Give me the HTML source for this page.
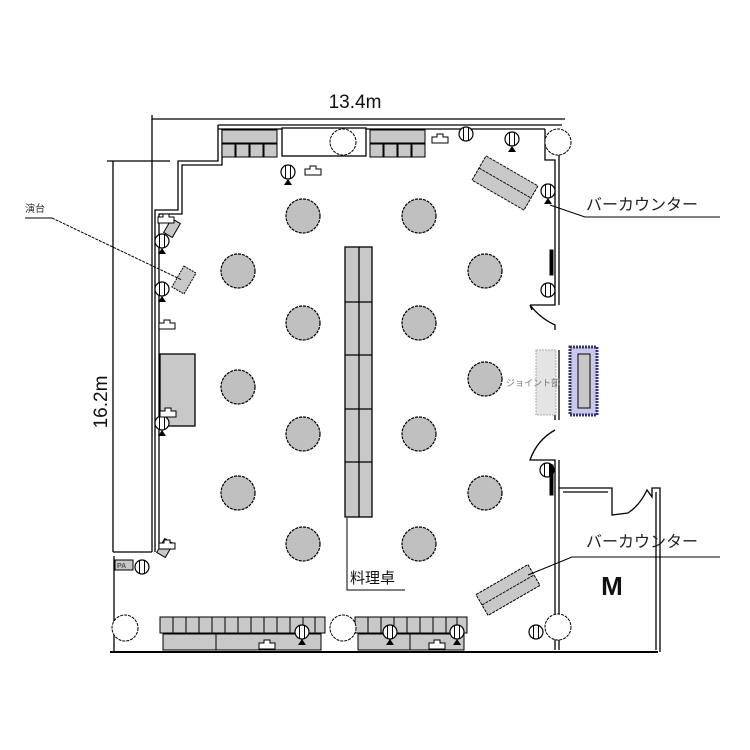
<!DOCTYPE html>
<html><head><meta charset="utf-8"><style>
html,body{margin:0;padding:0;background:#fff;}
svg{display:block;}
text{font-family:"Liberation Sans","Noto Sans CJK JP",sans-serif;}
</style></head><body>
<svg width="750" height="750" viewBox="0 0 750 750" xmlns="http://www.w3.org/2000/svg">
<defs>
<g id="spk">
<circle cx="0" cy="0" r="7" fill="#fff" stroke="#000" stroke-width="1.2"/>
<line x1="-2.5" y1="-7" x2="-2.5" y2="7" stroke="#000"/><line x1="2.5" y1="-7" x2="2.5" y2="7" stroke="#000"/>
<polygon points="-4,13 4,13 0,7" fill="#000"/>
</g>
<g id="spk0">
<circle cx="0" cy="0" r="7" fill="#fff" stroke="#000" stroke-width="1.2"/>
<line x1="-2.5" y1="-7" x2="-2.5" y2="7" stroke="#000"/><line x1="2.5" y1="-7" x2="2.5" y2="7" stroke="#000"/>
</g>
<g id="lan"><path d="M-8,4 L-8,-2 L-3,-2 L-3,-5 L3,-5 L3,-2 L8,-2 L8,4 Z" fill="#fff" stroke="#000"/></g>
</defs>
<g fill="none" stroke="#000" stroke-width="1.3">
<!-- dimension lines -->
<line x1="152" y1="119" x2="565" y2="119"/>
<line x1="107" y1="161" x2="170" y2="161"/>
<line x1="113" y1="161" x2="113" y2="552"/>
<line x1="113" y1="552" x2="152" y2="552"/>
<line x1="152" y1="115" x2="152" y2="552"/>
<!-- top walls -->
<path d="M218,125 L562,125 M218,129 L545,129"/>
<path d="M218,125 L218,161 L178,161 L178,210 L155,210 L155,552"/>
<path d="M222,129 L222,165 L182,165 L182,214 L159,214 L159,548"/>
<line x1="114" y1="556" x2="114" y2="652"/>
<line x1="110" y1="652" x2="658" y2="652" stroke-width="2"/>
<!-- right wall -->
<path d="M545,129 L545,160 L555,160 L555,305 L530,305"/>
<path d="M559,155 L559,305"/>
<path d="M530,305 Q540,318 555,325 L555,330 M530,305 L532,310"/>
<path d="M555,350 L555,420 M559,350 L559,420"/>
<path d="M555,430 Q537,440 530,460 L555,460 L555,650 M559,460 L559,650"/>
<path d="M559,488 L612,488 L612,515 L628,513 Q640,505 647,490 L652,497 L652,488 L660,488 L660,652 M563,492 L608,492 M656,492 L656,650"/>
</g>
<!-- top alcove -->
<rect x="282" y="128" width="84" height="28" fill="#fff" stroke="#000" stroke-width="1.3"/>
<circle cx="343" cy="142" r="13" fill="#fff" stroke="#000" stroke-dasharray="3,1"/>
<g fill="#c8c8c8" stroke="#000">
<rect x="222" y="130" width="55" height="13"/>
<rect x="222" y="144" width="13" height="13"/><rect x="236" y="144" width="13" height="13"/><rect x="250" y="144" width="13" height="13"/><rect x="264" y="144" width="13" height="13"/>
<rect x="370" y="130" width="55" height="13"/>
<rect x="370" y="144" width="13" height="13"/><rect x="384" y="144" width="13" height="13"/><rect x="398" y="144" width="13" height="13"/><rect x="412" y="144" width="13" height="13"/>
</g>
<circle cx="558" cy="142" r="13" fill="#fff" stroke="#000" stroke-dasharray="3,1"/>
<!-- round tables -->
<g fill="#c0c0c0" stroke="#000" stroke-width="1.2" stroke-dasharray="3,1">
<circle cx="303" cy="216" r="17"/><circle cx="419" cy="216" r="17"/>
<circle cx="238" cy="271" r="17"/><circle cx="485" cy="271" r="17"/>
<circle cx="303" cy="323" r="17"/><circle cx="419" cy="323" r="17"/>
<circle cx="238" cy="387" r="17"/><circle cx="485" cy="379" r="17"/>
<circle cx="303" cy="434" r="17"/><circle cx="419" cy="434" r="17"/>
<circle cx="238" cy="493" r="17"/><circle cx="485" cy="493" r="17"/>
<circle cx="303" cy="544" r="17"/><circle cx="419" cy="544" r="17"/>
</g>
<!-- center table -->
<rect x="345" y="247" width="27" height="270" fill="#c8c8c8" stroke="#000" stroke-width="1.3"/>
<g stroke="#000" stroke-width="1.3">
<line x1="359" y1="247" x2="359" y2="517"/>
<line x1="345" y1="302" x2="372" y2="302"/><line x1="345" y1="355" x2="372" y2="355"/>
<line x1="345" y1="409" x2="372" y2="409"/><line x1="345" y1="462" x2="372" y2="462"/>
</g>
<!-- bar counters -->
<g transform="translate(505,183) rotate(30)" fill="#c8c8c8" stroke="#000" stroke-dasharray="3,1">
<rect x="-30" y="-14" width="60" height="28"/><line x1="-30" y1="0" x2="30" y2="0"/>
</g>
<g transform="translate(508,590) rotate(-30)" fill="#c8c8c8" stroke="#000" stroke-dasharray="3,1">
<rect x="-30" y="-12" width="60" height="24"/><line x1="-30" y1="0" x2="30" y2="0"/>
</g>
<!-- left gray rect -->
<rect x="160" y="354" width="35" height="72" fill="#c8c8c8" stroke="#000" stroke-width="1.3"/>
<!-- stage -->
<g transform="translate(184,280) rotate(30)"><rect x="-7" y="-12" width="14" height="24" fill="#c8c8c8" stroke="#000" stroke-dasharray="2,1"/></g>
<g transform="translate(172,228) rotate(30)"><rect x="-5" y="-8" width="10" height="16" fill="#c8c8c8" stroke="#000"/></g>
<g transform="translate(165,548) rotate(30)"><rect x="-5" y="-8" width="10" height="16" fill="#c8c8c8" stroke="#000"/></g>
<!-- joint -->
<rect x="536" y="350" width="20" height="65" fill="#e4e4e4" stroke="#aaa" stroke-dasharray="2,1"/>
<rect x="570" y="347" width="27" height="68" fill="#c8c8e8" stroke="#33337a" stroke-width="3" stroke-dasharray="2,1"/>
<rect x="578" y="354" width="12" height="54" fill="#c8c8c8" stroke="#000"/>
<!-- bottom benches -->
<g fill="#c8c8c8" stroke="#000">
<rect x="160" y="617" width="165" height="16"/><rect x="163" y="634" width="158" height="16"/>
<rect x="355" y="617" width="112" height="16"/><rect x="358" y="634" width="106" height="16"/>
</g>
<g stroke="#000">
<line x1="173" y1="617" x2="173" y2="633"/><line x1="186" y1="617" x2="186" y2="633"/><line x1="199" y1="617" x2="199" y2="633"/><line x1="212" y1="617" x2="212" y2="633"/><line x1="225" y1="617" x2="225" y2="633"/><line x1="238" y1="617" x2="238" y2="633"/><line x1="251" y1="617" x2="251" y2="633"/><line x1="264" y1="617" x2="264" y2="633"/><line x1="277" y1="617" x2="277" y2="633"/><line x1="290" y1="617" x2="290" y2="633"/><line x1="303" y1="617" x2="303" y2="633"/><line x1="315" y1="617" x2="315" y2="633"/>
<line x1="368" y1="617" x2="368" y2="633"/><line x1="381" y1="617" x2="381" y2="633"/><line x1="394" y1="617" x2="394" y2="633"/><line x1="407" y1="617" x2="407" y2="633"/><line x1="420" y1="617" x2="420" y2="633"/><line x1="433" y1="617" x2="433" y2="633"/><line x1="446" y1="617" x2="446" y2="633"/><line x1="457" y1="617" x2="457" y2="633"/>
<line x1="216" y1="634" x2="216" y2="650"/><line x1="410" y1="634" x2="410" y2="650"/>
</g>
<g fill="#fff" stroke="#000" stroke-dasharray="3,1">
<circle cx="125" cy="628" r="13"/><circle cx="343" cy="628" r="13"/><circle cx="558" cy="627" r="13"/>
</g>
<!-- speakers -->
<use href="#spk" x="288" y="172"/><use href="#spk" x="512" y="139"/><use href="#spk" x="548" y="191"/>
<use href="#spk0" x="466" y="134"/><use href="#spk0" x="548" y="290"/><use href="#spk0" x="547" y="470"/><use href="#spk0" x="536" y="632"/>
<use href="#spk" x="162" y="241"/><use href="#spk" x="162" y="289"/><use href="#spk" x="162" y="423"/>
<use href="#spk0" x="142" y="567"/>
<use href="#spk" x="302" y="632"/><use href="#spk" x="390" y="632"/><use href="#spk" x="457" y="632"/>
<use href="#lan" x="313" y="171"/><use href="#lan" x="440" y="139"/><use href="#lan" x="166" y="219"/><use href="#lan" x="167" y="325"/><use href="#lan" x="168" y="413"/><use href="#lan" x="167" y="545"/>
<use href="#lan" x="267" y="645"/><use href="#lan" x="437" y="645"/>
<rect x="115" y="560" width="18" height="10" fill="#c8c8c8" stroke="#000"/>
<text x="117" y="568" font-size="7" font-weight="bold" fill="#555">PA</text>
<g stroke="#000" fill="#000"><rect x="550" y="250" width="3" height="25"/><rect x="550" y="465" width="3" height="30"/></g>
<!-- labels -->
<text x="355" y="108" font-size="19" text-anchor="middle" fill="#111">13.4m</text>
<text transform="translate(107,402) rotate(-90)" font-size="19" text-anchor="middle" fill="#111">16.2m</text>
<text x="25" y="212" font-size="10" fill="#333">演台</text>
<path d="M25,218 L52,218" stroke="#000" fill="none"/>
<path d="M52,218 L182,280" stroke="#000" stroke-dasharray="3,1" fill="none"/>
<text x="586" y="210" font-size="16" fill="#222">バーカウンター</text>
<path d="M550,205 L585,217 L720,217" stroke="#000" fill="none"/>
<text x="586" y="547" font-size="16" fill="#222">バーカウンター</text>
<path d="M528,575 L572,557 L720,557" stroke="#000" fill="none" />
<text x="350" y="583" font-size="15" fill="#111">料理卓</text>
<path d="M347,518 L347,590 L405,590" stroke="#000" fill="none"/>
<text x="612" y="595" font-size="26" font-weight="bold" text-anchor="middle" fill="#111">M</text>
<text x="506" y="386" font-size="9" fill="#777">ジョイント部</text>
</svg>
</body></html>
